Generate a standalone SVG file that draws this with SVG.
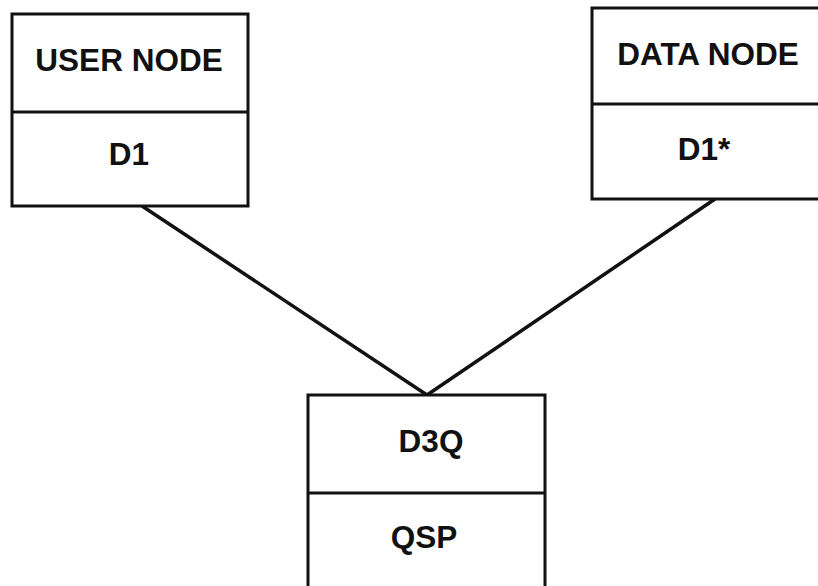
<svg xmlns="http://www.w3.org/2000/svg" width="818" height="586" viewBox="0 0 818 586">
<style>
.box{fill:#fff;stroke:#111;stroke-width:3}
.div{stroke:#111;stroke-width:3}
.lbl{font-family:"Liberation Sans",Arial,sans-serif;font-weight:bold;font-size:31.5px;fill:#111;text-anchor:middle}
.con{stroke:#111;stroke-width:3.5;fill:none}
</style>
<rect width="818" height="586" fill="#fff"/>
<g id="connectors">
<line class="con" x1="142" y1="206" x2="427" y2="395"/>
<line class="con" x1="715" y1="199" x2="427" y2="395"/>
</g>
<g id="user-node">
<rect class="box" x="12" y="14" width="236" height="192"/>
<line class="div" x1="12" y1="112" x2="248" y2="112"/>
<text class="lbl" x="129" y="71">USER NODE</text>
<text class="lbl" x="129" y="165">D1</text>
</g>
<g id="data-node">
<rect class="box" x="592" y="8" width="240" height="191"/>
<line class="div" x1="592" y1="104" x2="818" y2="104"/>
<text class="lbl" x="708" y="65">DATA NODE</text>
<text class="lbl" x="704" y="160">D1*</text>
</g>
<g id="d3q-node">
<rect class="box" x="308" y="395" width="237" height="200"/>
<line class="div" x1="308" y1="493" x2="545" y2="493"/>
<text class="lbl" x="431" y="452">D3Q</text>
<text class="lbl" x="424" y="548">QSP</text>
</g>
</svg>
